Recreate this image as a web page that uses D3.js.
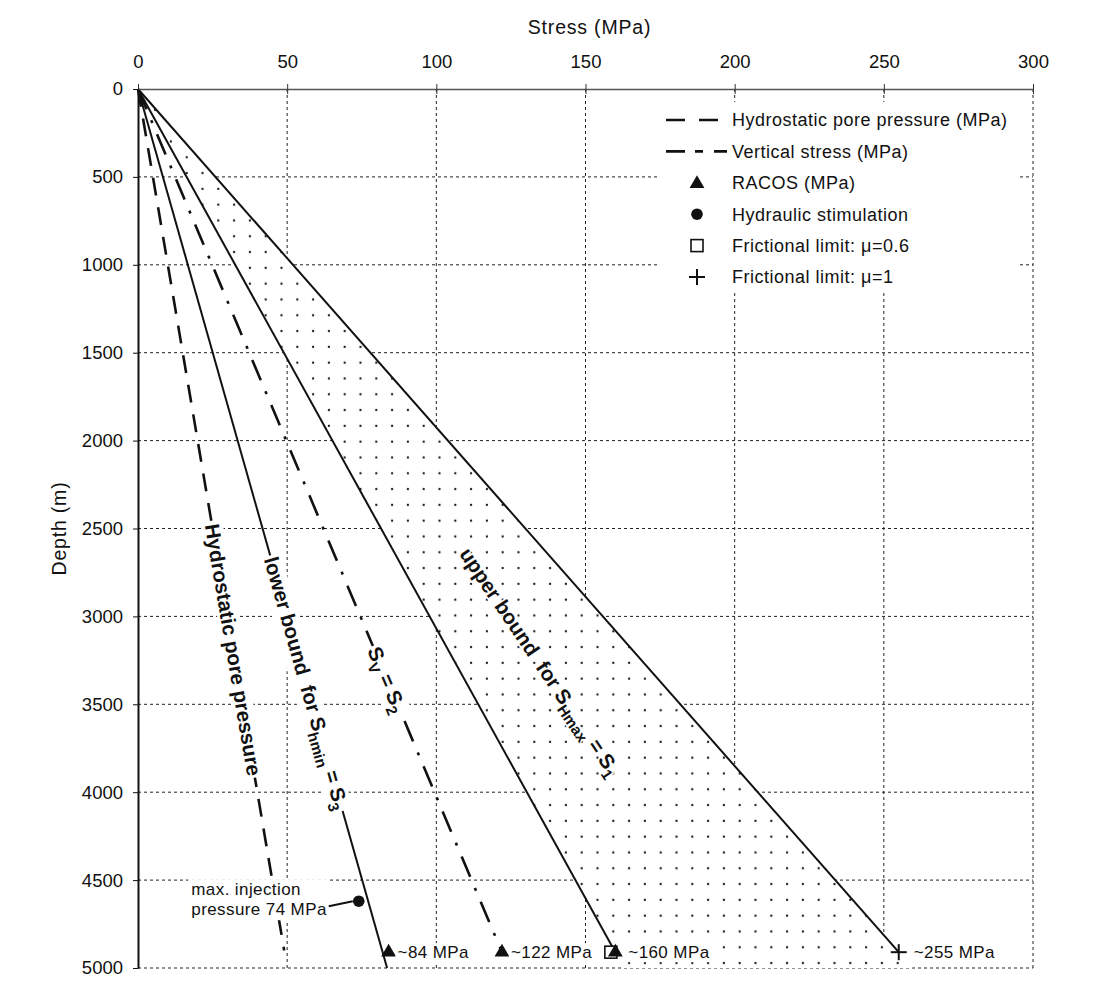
<!DOCTYPE html>
<html>
<head>
<meta charset="utf-8">
<script src="https://cdn.jsdelivr.net/npm/d3@7"></script>
<style>
  body { margin: 0; background: #fff; }
  svg { display: block; font-family: "Liberation Sans", Arial, Helvetica, sans-serif; }
</style>
</head>
<body>
<svg id="chart" width="1093" height="987"></svg>
<script>
// Stress vs depth profiles
const stressTicks = [0, 50, 100, 150, 200, 250, 300];
const depthTicks = [0, 500, 1000, 1500, 2000, 2500, 3000, 3500, 4000, 4500, 5000];

// [stress MPa, depth m]
const hydrostatic = [[0, 0], [49, 4900]];
const shminLower = [[0, 0], [83.5, 5000]];
const verticalStress = [[0, 0], [122, 4910]];
const shmaxLower = [[0, 0], [160, 4910]];
const shmaxUpper = [[0, 0], [255, 4910]];

const racosStress = [84, 122, 160];
const racosDepth = [4910, 4910, 4910];
const racosLabels = ["~84 MPa", "~122 MPa", "~160 MPa"];
const stimulation = [[74, 4620]];
const friction06 = [[158.5, 4910]];
const friction1 = [[255, 4910]];
const friction1Labels = ["~255 MPa"];

const legendLabels = [
  "Hydrostatic pore pressure (MPa)",
  "Vertical stress (MPa)",
  "RACOS (MPa)",
  "Hydraulic stimulation",
  "Frictional limit: \u03bc=0.6",
  "Frictional limit: \u03bc=1"
];

const W = 1093, H = 987;
const margin = { top: 89, right: 60, bottom: 19, left: 138 };

const svg = d3.select("#chart");

const x = d3.scaleLinear().domain([0, 300]).range([margin.left, W - margin.right]);
const y = d3.scaleLinear().domain([0, 5000]).range([margin.top, H - margin.bottom]);

const line = d3.line().x((d) => x(d[0])).y((d) => y(d[1]));

// dotted fill pattern
const defs = svg.append("defs");
const pat = defs.append("pattern")
  .attr("id", "dots")
  .attr("patternUnits", "userSpaceOnUse")
  .attr("x", 5).attr("y", 7.2)
  .attr("width", 15.8).attr("height", 15.8);
pat.append("rect").attr("width", 15.8).attr("height", 15.8).attr("fill", "#fff");
pat.append("circle").attr("cx", 7.9).attr("cy", 7.9).attr("r", 1.15).attr("fill", "#111");

// grid
const grid = svg.append("g")
  .attr("stroke", "#222")
  .attr("stroke-width", 1);
grid.selectAll("line.v")
  .data(stressTicks.slice(1))
  .join("line")
  .attr("class", "v")
  .attr("x1", (d) => x(d)).attr("x2", (d) => x(d))
  .attr("y1", y(0)).attr("y2", y(5000))
  .attr("stroke-dasharray", "3,3");
grid.selectAll("line.h")
  .data(depthTicks.slice(1))
  .join("line")
  .attr("class", "h")
  .attr("x1", x(0)).attr("x2", x(300))
  .attr("y1", (d) => y(d)).attr("y2", (d) => y(d))
  .attr("stroke-dasharray", "3,3");

// dotted area between the two S_Hmax bounds, extended to the bottom
function atDepth(pts, depth) {
  const a = pts[0], b = pts[pts.length - 1];
  return a[0] + (b[0] - a[0]) * (depth - a[1]) / (b[1] - a[1]);
}
const bottom = y.domain()[1];
const area = [shmaxLower[0], [atDepth(shmaxLower, bottom), bottom], [atDepth(shmaxUpper, bottom), bottom]];
svg.append("path")
  .attr("d", line(area) + "Z")
  .attr("fill", "url(#dots)");

// profiles
svg.append("path").datum(hydrostatic).attr("d", line)
  .attr("fill", "none").attr("stroke", "#111").attr("stroke-width", 2.6)
  .attr("stroke-dasharray", "18,12");
svg.append("path").datum(shminLower).attr("d", line)
  .attr("fill", "none").attr("stroke", "#111").attr("stroke-width", 2);
svg.append("path").datum(verticalStress).attr("d", line)
  .attr("fill", "none").attr("stroke", "#111").attr("stroke-width", 2.6)
  .attr("stroke-dasharray", "22,12,3,12");
svg.append("path").datum(shmaxLower).attr("d", line)
  .attr("fill", "none").attr("stroke", "#111").attr("stroke-width", 2);
svg.append("path").datum(shmaxUpper).attr("d", line)
  .attr("fill", "none").attr("stroke", "#111").attr("stroke-width", 2);

// rotated labels sitting on the lines
function rotatedLabel(px, py, ang, parts, withBg) {
  const fs = 20.5;
  const g = svg.append("g").attr("transform", `translate(${px},${py}) rotate(${ang})`);
  const bg = g.append("rect").attr("fill", "#fff");
  const t = g.append("text")
    .attr("text-anchor", "middle")
    .attr("dy", "0.35em")
    .attr("font-size", fs)
    .attr("font-weight", "bold")
    .attr("fill", "#111")
    .style("white-space", "pre");
  let shifted = false;
  parts.forEach(([txt, sub]) => {
    const ts = t.append("tspan").text(txt);
    if (sub && !shifted) { ts.attr("dy", fs * 0.28).attr("font-size", fs * 0.74); shifted = true; }
    else if (sub) { ts.attr("font-size", fs * 0.74); }
    else if (shifted) { ts.attr("dy", -fs * 0.28); shifted = false; }
  });
  if (withBg) {
    const b = t.node().getBBox();
    bg.attr("x", b.x - 2).attr("y", b.y + 1).attr("width", b.width + 4).attr("height", b.height - 2);
  } else {
    bg.remove();
    t.attr("stroke", "#fff").attr("stroke-width", 3).attr("paint-order", "stroke");
  }
}
function onLine(pts, depth, parts) {
  const a = pts[0], b = pts[pts.length - 1];
  const ang = Math.atan2(y(b[1]) - y(a[1]), x(b[0]) - x(a[0])) * 180 / Math.PI;
  rotatedLabel(x(atDepth(pts, depth)), y(depth), ang, parts, true);
}
onLine(hydrostatic, 3190, [["Hydrostatic pore pressure"]]);
onLine(shminLower, 3380, [["lower bound  for S"], ["hmin", true], [" = S"], ["3", true]]);
onLine(verticalStress, 3360, [["S"], ["V", true], [" = S"], ["2", true]]);
rotatedLabel(x(134.8), y(3259), 56, [["upper bound  for S"], ["Hmax", true], [" = S"], ["1", true]], false);

// markers
const tri = d3.symbol(d3.symbolTriangle, 95);
const racos = racosStress.map((s, i) => ({ s, d: racosDepth[i], label: racosLabels[i] }));

svg.append("g").selectAll("rect")
  .data(friction06)
  .join("rect")
  .attr("x", (d) => x(d[0]) - 6).attr("y", (d) => y(d[1]) - 6)
  .attr("width", 12).attr("height", 12)
  .attr("fill", "#fff").attr("stroke", "#111").attr("stroke-width", 1.6);

svg.append("g").selectAll("path")
  .data(racos)
  .join("path")
  .attr("d", tri)
  .attr("transform", (d) => `translate(${x(d.s)},${y(d.d)})`)
  .attr("fill", "#111");

svg.append("g").selectAll("circle")
  .data(stimulation)
  .join("circle")
  .attr("cx", (d) => x(d[0])).attr("cy", (d) => y(d[1]))
  .attr("r", 5.8).attr("fill", "#111");

const plus = svg.append("g").attr("stroke", "#111").attr("stroke-width", 2);
friction1.forEach((d) => {
  plus.append("line").attr("x1", x(d[0]) - 8).attr("x2", x(d[0]) + 8).attr("y1", y(d[1])).attr("y2", y(d[1]));
  plus.append("line").attr("x1", x(d[0])).attr("x2", x(d[0])).attr("y1", y(d[1]) - 8).attr("y2", y(d[1]) + 8);
});

// value labels next to the markers (white boxes knock out the dots)
function valueLabel(px, py, txt) {
  const t = svg.append("text")
    .attr("x", px).attr("y", py).attr("dy", "0.35em")
    .attr("font-size", 17).attr("letter-spacing", 0.4).attr("fill", "#111")
    .text(txt);
  const b = t.node().getBBox();
  svg.insert("rect", () => t.node())
    .attr("x", b.x - 2).attr("y", b.y).attr("width", b.width + 4).attr("height", b.height)
    .attr("fill", "#fff");
}
racos.forEach((d, i) => valueLabel(x(d.s) + (i === racos.length - 1 ? 13 : 9), y(d.d), d.label));
friction1.forEach((d, i) => valueLabel(x(d[0]) + 15, y(d[1]), friction1Labels[i]));

// injection pressure annotation
stimulation.forEach((d) => {
  const cx = x(d[0]), cy = y(d[1]);
  const note = svg.append("g");
  const bg = note.append("rect").attr("fill", "#fff");
  note.append("line")
    .attr("x1", cx - 30).attr("y1", cy + 5).attr("x2", cx - 6).attr("y2", cy)
    .attr("stroke", "#111").attr("stroke-width", 2);
  const t2 = note.append("text")
    .attr("x", cx - 32).attr("y", cy + 14)
    .attr("text-anchor", "end")
    .attr("font-size", 17).attr("letter-spacing", 0.4).attr("fill", "#111")
    .text("pressure 74 MPa");
  const b2 = t2.node().getBBox();
  const t1 = note.append("text")
    .attr("x", b2.x).attr("y", cy - 6)
    .attr("font-size", 17).attr("letter-spacing", 0.4).attr("fill", "#111")
    .text("max. injection");
  const b1 = t1.node().getBBox();
  bg.attr("x", b2.x - 3).attr("y", b1.y - 1)
    .attr("width", Math.max(b1.width, b2.width) + 5).attr("height", b2.y + b2.height - b1.y + 2);
});

// legend
const leg = svg.append("g");
leg.append("rect").attr("x", 658).attr("y", 102).attr("width", 362).attr("height", 188).attr("fill", "#fff");
const rowY = (i) => 120 + i * 31.4;
leg.append("line").attr("x1", 666).attr("x2", 719).attr("y1", rowY(0)).attr("y2", rowY(0))
  .attr("stroke", "#111").attr("stroke-width", 2.6).attr("stroke-dasharray", "19,14");
leg.append("line").attr("x1", 666).attr("x2", 727).attr("y1", rowY(1)).attr("y2", rowY(1))
  .attr("stroke", "#111").attr("stroke-width", 2.6).attr("stroke-dasharray", "19,10,8,11,13");
leg.append("path").attr("d", tri).attr("transform", `translate(697,${rowY(2) + 1})`).attr("fill", "#111");
leg.append("circle").attr("cx", 697).attr("cy", rowY(3)).attr("r", 5.8).attr("fill", "#111");
leg.append("rect").attr("x", 691).attr("y", rowY(4) - 6).attr("width", 12).attr("height", 12)
  .attr("fill", "#fff").attr("stroke", "#111").attr("stroke-width", 1.6);
leg.append("line").attr("x1", 689).attr("x2", 705).attr("y1", rowY(5)).attr("y2", rowY(5)).attr("stroke", "#111").attr("stroke-width", 2);
leg.append("line").attr("x1", 697).attr("x2", 697).attr("y1", rowY(5) - 8).attr("y2", rowY(5) + 8).attr("stroke", "#111").attr("stroke-width", 2);
leg.selectAll("text")
  .data(legendLabels)
  .join("text")
  .attr("x", 732)
  .attr("y", (d, i) => rowY(i))
  .attr("dy", "0.35em")
  .attr("font-size", 18)
  .attr("letter-spacing", 0.5)
  .attr("fill", "#111")
  .text((d) => d);

// axes
const topAxis = svg.append("g")
  .attr("transform", `translate(0,${margin.top})`)
  .call(d3.axisTop(x).tickValues(stressTicks).tickSize(5).tickSizeOuter(0).tickPadding(16));
topAxis.select(".domain").attr("stroke", "#555").attr("stroke-width", 1.5);
topAxis.selectAll(".tick line").attr("stroke", "#333").attr("y2", 5).attr("y1", -5);
topAxis.selectAll(".tick text").attr("font-size", 18.5).attr("font-family", null).attr("fill", "#111");

const leftAxis = svg.append("g")
  .attr("transform", `translate(${margin.left},0)`)
  .call(d3.axisLeft(y).tickValues(depthTicks).tickFormat(d3.format("d")).tickSize(5).tickSizeOuter(0).tickPadding(10));
leftAxis.select(".domain").attr("stroke", "#111").attr("stroke-width", 2);
leftAxis.selectAll(".tick line").attr("stroke", "#111");
leftAxis.selectAll(".tick text").attr("font-size", 18.5).attr("font-family", null).attr("fill", "#111");

svg.append("text")
  .attr("x", (x(0) + x(300)) / 2 + 4).attr("y", 34)
  .attr("text-anchor", "middle")
  .attr("font-size", 19.5).attr("letter-spacing", 0.8).attr("fill", "#111")
  .text("Stress (MPa)");

svg.append("text")
  .attr("transform", `translate(66,${(y(0) + y(5000)) / 2}) rotate(-90)`)
  .attr("text-anchor", "middle")
  .attr("font-size", 19.5).attr("letter-spacing", 0.8).attr("fill", "#111")
  .text("Depth (m)");
</script>
</body>
</html>
